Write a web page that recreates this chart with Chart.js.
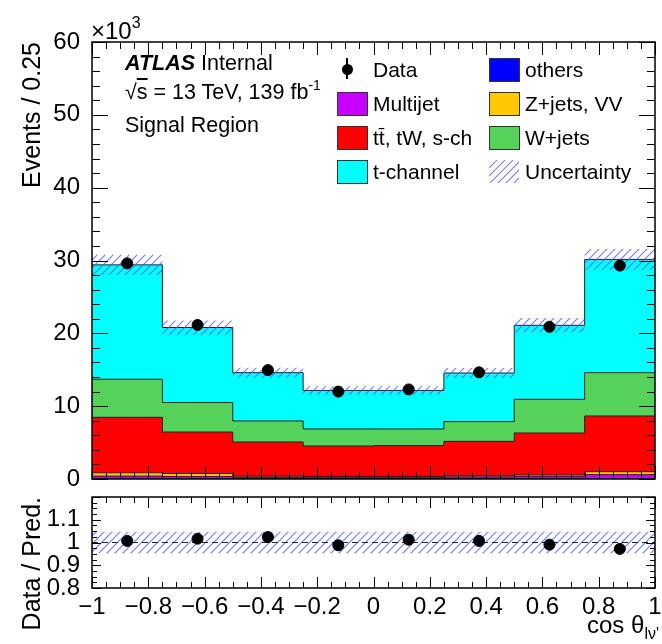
<!DOCTYPE html>
<html>
<head>
<meta charset="utf-8">
<script src="https://cdn.jsdelivr.net/npm/chart.js@4.4.0/dist/chart.umd.min.js"></script>
<style>
body { margin: 0; background: #fff; }
#wrap { position: relative; width: 662px; height: 644px; overflow: hidden; font-family: "Liberation Sans", Arial, sans-serif; color: #000; }
.box { position: absolute; }
.t { position: absolute; white-space: nowrap; line-height: 1; }
.leg { font-size: 21px; }
.sw { position: absolute; width: 29px; height: 22px; border: 1px solid #333; }
.ol { text-decoration: overline; }
</style>
</head>
<body>
<div id="wrap">
  <div class="box" style="left:0;top:0;width:662px;height:500px"><canvas id="chartMain" width="662" height="500"></canvas></div>
  <div class="box" style="left:0;top:460px;width:662px;height:184px"><canvas id="chartRatio" width="662" height="184"></canvas></div>

  <div class="t" style="left:91px;top:19px;font-size:24px">&times;10<span style="font-size:16px;position:relative;top:-11px">3</span></div>

  <div class="t" style="left:125px;top:53px;font-size:21.5px"><b><i>ATLAS</i></b> Internal</div>
  <div class="t" style="left:125px;top:82px;font-size:21.5px">&radic;<span class="ol">s</span> = 13 TeV, 139 fb<span style="font-size:14px;position:relative;top:-9px">-1</span></div>
  <div class="t" style="left:125px;top:115px;font-size:21.5px">Signal Region</div>

  <!-- legend -->
  <div class="box" style="left:346px;top:58px;width:2px;height:21px;background:#000"></div>
  <div class="box" style="left:346px;top:64px;width:11px;height:11px;border-radius:50%;background:#000;margin-left:-4.5px"></div>
  <div class="t leg" style="left:373px;top:59px">Data</div>
  <div class="sw" style="left:337px;top:92px;background:#c800ff"></div>
  <div class="t leg" style="left:373px;top:93px">Multijet</div>
  <div class="sw" style="left:337px;top:126px;background:#ff0000"></div>
  <div class="t leg" style="left:373px;top:127px">tt&#772;, tW, s-ch</div>
  <div class="sw" style="left:337px;top:160px;background:#00ffff"></div>
  <div class="t leg" style="left:373px;top:161px">t-channel</div>

  <div class="sw" style="left:489px;top:58px;background:#0000ff"></div>
  <div class="t leg" style="left:525px;top:59px">others</div>
  <div class="sw" style="left:489px;top:92px;background:#ffc800"></div>
  <div class="t leg" style="left:525px;top:93px">Z+jets, VV</div>
  <div class="sw" style="left:489px;top:126px;background:#55d25a"></div>
  <div class="t leg" style="left:525px;top:127px">W+jets</div>
  <canvas id="legHatch" class="box" width="30" height="23" style="left:489px;top:160px"></canvas>
  <div class="t leg" style="left:525px;top:161px">Uncertainty</div>

  <div class="t" style="right:3px;top:613px;font-size:24px">cos &theta;<span style="font-size:16px;position:relative;top:6px">l&nu;'</span></div>
</div>

<script>
// bins in cos theta
var binEdges = [-1, -0.75, -0.5, -0.25, 0, 0.25, 0.5, 0.75, 1]

// predicted events per bin (stack order, bottom to top)
var others   = [50, 50, 40, 40, 40, 40, 50, 50]
var multijet = [350, 300, 200, 200, 200, 250, 300, 550]
var zjetsVV  = [450, 400, 150, 120, 120, 150, 200, 400]
var ttbar    = [7620, 5700, 4690, 4170, 4220, 4730, 5770, 7650]
var wjets    = [5230, 4050, 2890, 2340, 2290, 2710, 4620, 5950]
var tchannel = [15700, 10300, 6630, 5280, 5280, 6670, 10160, 15550]

var dataEvents = [29600, 21150, 14950, 12000, 12300, 14650, 20900, 29300]
var relUnc = [0.047, 0.047, 0.047, 0.047, 0.047, 0.047, 0.047, 0.047]

// axis ticks
var yTicksMain = [0, 10000, 20000, 30000, 40000, 50000, 60000]
var xTicks = [-1, -0.8, -0.6, -0.4, -0.2, 0, 0.2, 0.4, 0.6, 0.8, 1]
var yTicksRatio = [0.8, 0.9, 1, 1.1]

var stackColors = ['#0000ff', '#c800ff', '#ffc800', '#ff0000', '#55d25a', '#00ffff']
var FONT = '"Liberation Sans", Arial, sans-serif'
Chart.defaults.font.family = FONT
Chart.defaults.color = '#000'

function histPoints(vals) {
    var pts = vals.map(function (v, i) { return { x: binEdges[i], y: v } })
    pts.push({ x: binEdges[binEdges.length - 1], y: vals[vals.length - 1] })
    return pts
}

function centers() {
    return binEdges.slice(0, -1).map(function (e, i) { return (e + binEdges[i + 1]) / 2 })
}

function hatchPattern(ctx) {
    var c = document.createElement('canvas')
    c.width = 8; c.height = 8
    var g = c.getContext('2d')
    g.strokeStyle = 'rgba(85,85,255,0.8)'
    g.lineWidth = 1.1
    g.beginPath()
    g.moveTo(0, 8); g.lineTo(8, 0)
    g.moveTo(-2, 2); g.lineTo(2, -2)
    g.moveTo(6, 10); g.lineTo(10, 6)
    g.stroke()
    return ctx.createPattern(c, 'repeat')
}

// ROOT-like frame with inward ticks on all four sides
function frameTicks(spec) {
    return {
        id: 'frameTicks',
        afterDraw: function (chart) {
            var a = chart.chartArea, ctx = chart.ctx
            var xs = chart.scales.x, ys = chart.scales.y
            ctx.save()
            ctx.strokeStyle = '#000'
            ctx.lineWidth = 1
            ctx.beginPath()
            var n = Math.round((xs.max - xs.min) / spec.xStep)
            for (var i = 0; i <= n; i++) {
                var px = Math.round(xs.getPixelForValue(xs.min + i * spec.xStep)) + 0.5
                var len = i % spec.xSub === 0 ? spec.xMajor : spec.xMinor
                ctx.moveTo(px, a.bottom); ctx.lineTo(px, a.bottom - len)
                ctx.moveTo(px, a.top); ctx.lineTo(px, a.top + len)
            }
            n = Math.round((ys.max - ys.min) / spec.yStep)
            for (i = 0; i <= n; i++) {
                var py = Math.round(ys.getPixelForValue(ys.min + i * spec.yStep)) + 0.5
                len = i % spec.ySub === 0 ? spec.yMajor : spec.yMinor
                ctx.moveTo(a.left, py); ctx.lineTo(a.left + len, py)
                ctx.moveTo(a.right, py); ctx.lineTo(a.right - len, py)
            }
            ctx.stroke()
            ctx.lineWidth = 1.5
            ctx.strokeRect(a.left, a.top, a.right - a.left, a.bottom - a.top)
            ctx.restore()
        }
    }
}

function fmtTick(v) {
    return String(Math.round(v * 10) / 10).replace('-', '\u2212')
}

// cumulative stack
var layers = [others, multijet, zjetsVV, ttbar, wjets, tchannel]
var running = others.map(function () { return 0 })
var cumulative = layers.map(function (l) {
    running = running.map(function (r, i) { return r + l[i] })
    return running.slice()
})
var total = cumulative[cumulative.length - 1]

var ctxMain = document.getElementById('chartMain')
var ctxRatio = document.getElementById('chartRatio')
var hatch = hatchPattern(ctxMain.getContext('2d'))

var lh = document.getElementById('legHatch').getContext('2d')
lh.fillStyle = hatchPattern(lh)
lh.fillRect(0, 0, 30, 23)

var mainSets = cumulative.map(function (c, i) {
    return {
        data: histPoints(c), stepped: true, fill: 'origin',
        backgroundColor: stackColors[i], borderColor: '#222', borderWidth: 1,
        pointRadius: 0, order: 2
    }
})
mainSets.push({
    data: histPoints(total.map(function (t, i) { return t * (1 - relUnc[i]) })),
    stepped: true, fill: false, borderWidth: 0, pointRadius: 0, order: 1
})
mainSets.push({
    data: histPoints(total.map(function (t, i) { return t * (1 + relUnc[i]) })),
    stepped: true, fill: '-1', backgroundColor: hatch, borderWidth: 0, pointRadius: 0, order: 1
})
mainSets.push({
    data: centers().map(function (x, i) { return { x: x, y: dataEvents[i] } }),
    showLine: false, pointRadius: 5.5, pointBackgroundColor: '#000', pointBorderColor: '#000', order: 0
})

var chartMain = new Chart(ctxMain, {
    type: 'line',
    data: { datasets: mainSets },
    options: {
        responsive: false, animation: false, devicePixelRatio: 1,
        layout: { padding: { left: 0, right: 7, top: 42, bottom: 21 } },
        plugins: { legend: { display: false }, tooltip: { enabled: false } },
        scales: {
            x: { type: 'linear', min: -1, max: 1, display: false },
            y: {
                type: 'linear', min: 0, max: 60000,
                afterBuildTicks: function (s) { s.ticks = yTicksMain.map(function (v) { return { value: v } }) },
                afterFit: function (s) { s.width = 92 },
                grid: { display: false }, border: { display: false },
                ticks: { font: { size: 24 }, color: '#000', padding: 4, callback: function (v) { return v / 1000 } },
                title: { display: true, text: 'Events / 0.25', align: 'end', color: '#000', font: { size: 25 }, padding: { top: 18, bottom: 0 } }
            }
        }
    },
    plugins: [frameTicks({ xStep: 0.05, xSub: 4, xMajor: 13, xMinor: 7, yStep: 2000, ySub: 5, yMajor: 16, yMinor: 8 })]
})

var ratioSets = [
    {
        data: histPoints(relUnc.map(function (u) { return 1 - u })),
        stepped: true, fill: false, borderWidth: 0, pointRadius: 0, order: 2
    },
    {
        data: histPoints(relUnc.map(function (u) { return 1 + u })),
        stepped: true, fill: '-1', backgroundColor: hatch, borderWidth: 0, pointRadius: 0, order: 2
    },
    {
        data: [{ x: binEdges[0], y: 1 }, { x: binEdges[binEdges.length - 1], y: 1 }],
        borderColor: '#222', borderWidth: 1, borderDash: [6, 4], pointRadius: 0, fill: false, order: 1
    },
    {
        data: centers().map(function (x, i) { return { x: x, y: dataEvents[i] / total[i] } }),
        showLine: false, pointRadius: 5.5, pointBackgroundColor: '#000', pointBorderColor: '#000', order: 0
    }
]

var chartRatio = new Chart(ctxRatio, {
    type: 'line',
    data: { datasets: ratioSets },
    options: {
        responsive: false, animation: false, devicePixelRatio: 1,
        layout: { padding: { left: 0, right: 7, top: 37, bottom: 0 } },
        plugins: { legend: { display: false }, tooltip: { enabled: false } },
        scales: {
            x: {
                type: 'linear', min: -1, max: 1,
                afterBuildTicks: function (s) { s.ticks = xTicks.map(function (v) { return { value: v } }) },
                afterFit: function (s) { s.height = 56 },
                grid: { display: false }, border: { display: false },
                ticks: { font: { size: 24 }, color: '#000', padding: -3, autoSkip: false, maxRotation: 0, callback: fmtTick }
            },
            y: {
                type: 'linear', min: 0.8, max: 1.2,
                afterBuildTicks: function (s) { s.ticks = yTicksRatio.map(function (v) { return { value: v } }) },
                afterFit: function (s) { s.width = 92 },
                grid: { display: false }, border: { display: false },
                ticks: { font: { size: 24 }, color: '#000', padding: 4, autoSkip: false, callback: fmtTick },
                title: { display: true, text: 'Data / Pred.', align: 'end', color: '#000', font: { size: 25 }, padding: { top: 18, bottom: 0 } }
            }
        }
    },
    plugins: [frameTicks({ xStep: 0.05, xSub: 4, xMajor: 11, xMinor: 6, yStep: 0.025, ySub: 4, yMajor: 9, yMinor: 5 })]
})
</script>
</body>
</html>
